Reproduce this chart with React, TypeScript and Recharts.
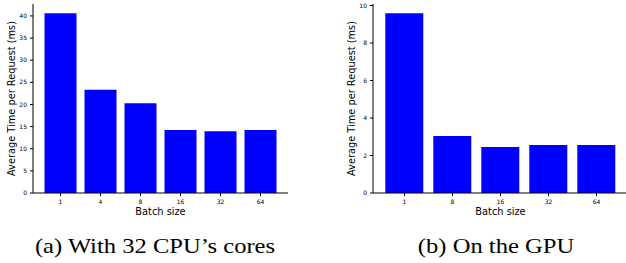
import React from 'react';
import { Bar, BarChart, XAxis, YAxis } from 'recharts';

// batch sizes (categories)
const cpuBatches = ['1', '4', '8', '16', '32', '64'];
const gpuBatches = ['1', '8', '16', '32', '64'];

// average time per request (ms)
const cpuTimes = [40.6, 23.3, 20.3, 14.25, 13.95, 14.25];
const gpuTimes = [9.59, 3.04, 2.46, 2.56, 2.56];

// y ticks
const cpuTicks = [0, 5, 10, 15, 20, 25, 30, 35, 40];
const gpuTicks = [0, 2, 4, 6, 8, 10];

const cpuData = cpuBatches.map((b, i) => ({ batch: b, time: cpuTimes[i] }));
const gpuData = gpuBatches.map((b, i) => ({ batch: b, time: gpuTimes[i] }));

const FONT = 'DejaVu Sans';
const tickStyle = { fontSize: 6, fontFamily: FONT, fill: '#000' };

const YLabel = (props: any) => {
  const vb = props.viewBox;
  const cx = vb.x + 11;
  const cy = vb.y + vb.height / 2;
  return (
    <text
      x={cx}
      y={cy}
      dy="0.36em"
      textAnchor="middle"
      transform={`rotate(-90 ${cx} ${cy})`}
      style={{ fontSize: 9.8, fontFamily: FONT, fill: '#000' }}
    >
      Average Time per Request (ms)
    </text>
  );
};

const Panel = ({ data, ticks, max }: { data: any[]; ticks: number[]; max: number }) => (
  <BarChart width={300} height={230} data={data} margin={{ top: 4, right: 12, left: 0, bottom: 0 }} barCategoryGap="10%">
    <XAxis
      dataKey="batch"
      height={37}
      padding={{ left: 7.5, right: 7.5 }}
      tick={tickStyle}
      tickSize={3}
      tickMargin={4}
      axisLine={{ stroke: '#000', strokeWidth: 1 }}
      tickLine={{ stroke: '#000' }}
      label={{ value: 'Batch size', position: 'insideBottom', offset: 15, style: { fontSize: 9.8, fontFamily: FONT, fill: '#000' } }}
    />
    <XAxis xAxisId="top" dataKey="batch" orientation="top" height={0} tick={false} tickLine={false} axisLine={{ stroke: '#000', strokeWidth: 1 }} />
    <YAxis
      width={33}
      type="number"
      domain={[0, max]}
      ticks={ticks}
      tick={tickStyle}
      tickSize={3}
      tickMargin={3}
      axisLine={{ stroke: '#000', strokeWidth: 1 }}
      tickLine={{ stroke: '#000' }}
      label={<YLabel />}
    />
    <YAxis yAxisId="right" orientation="right" width={0} domain={[0, max]} tick={false} tickLine={false} axisLine={{ stroke: '#000', strokeWidth: 1 }} />
    <Bar dataKey="time" fill="#0000ff" isAnimationActive={false} />
  </BarChart>
);

const captionStyle: React.CSSProperties = {
  position: 'absolute',
  top: 236,
  width: 300,
  textAlign: 'center',
  fontFamily: 'Liberation Serif',
  fontSize: 21,
  lineHeight: '21px',
  color: '#000',
  transform: 'scaleX(1.17)',
  transformOrigin: 'center',
  whiteSpace: 'nowrap',
};

export default function App() {
  return (
    <div style={{ position: 'fixed', left: 0, top: 0, width: 626, height: 263, overflow: 'hidden', background: '#fff' }}>
      <div style={{ position: 'absolute', left: 0, top: 0 }}>
        <Panel data={cpuData} ticks={cpuTicks} max={42.7} />
      </div>
      <div style={{ position: 'absolute', left: 340, top: 0 }}>
        <Panel data={gpuData} ticks={gpuTicks} max={10.08} />
      </div>
      <div style={{ ...captionStyle, left: 155 - 150 }}>(a) With 32 CPU’s cores</div>
      <div style={{ ...captionStyle, left: 496 - 150 }}>(b) On the GPU</div>
    </div>
  );
}
